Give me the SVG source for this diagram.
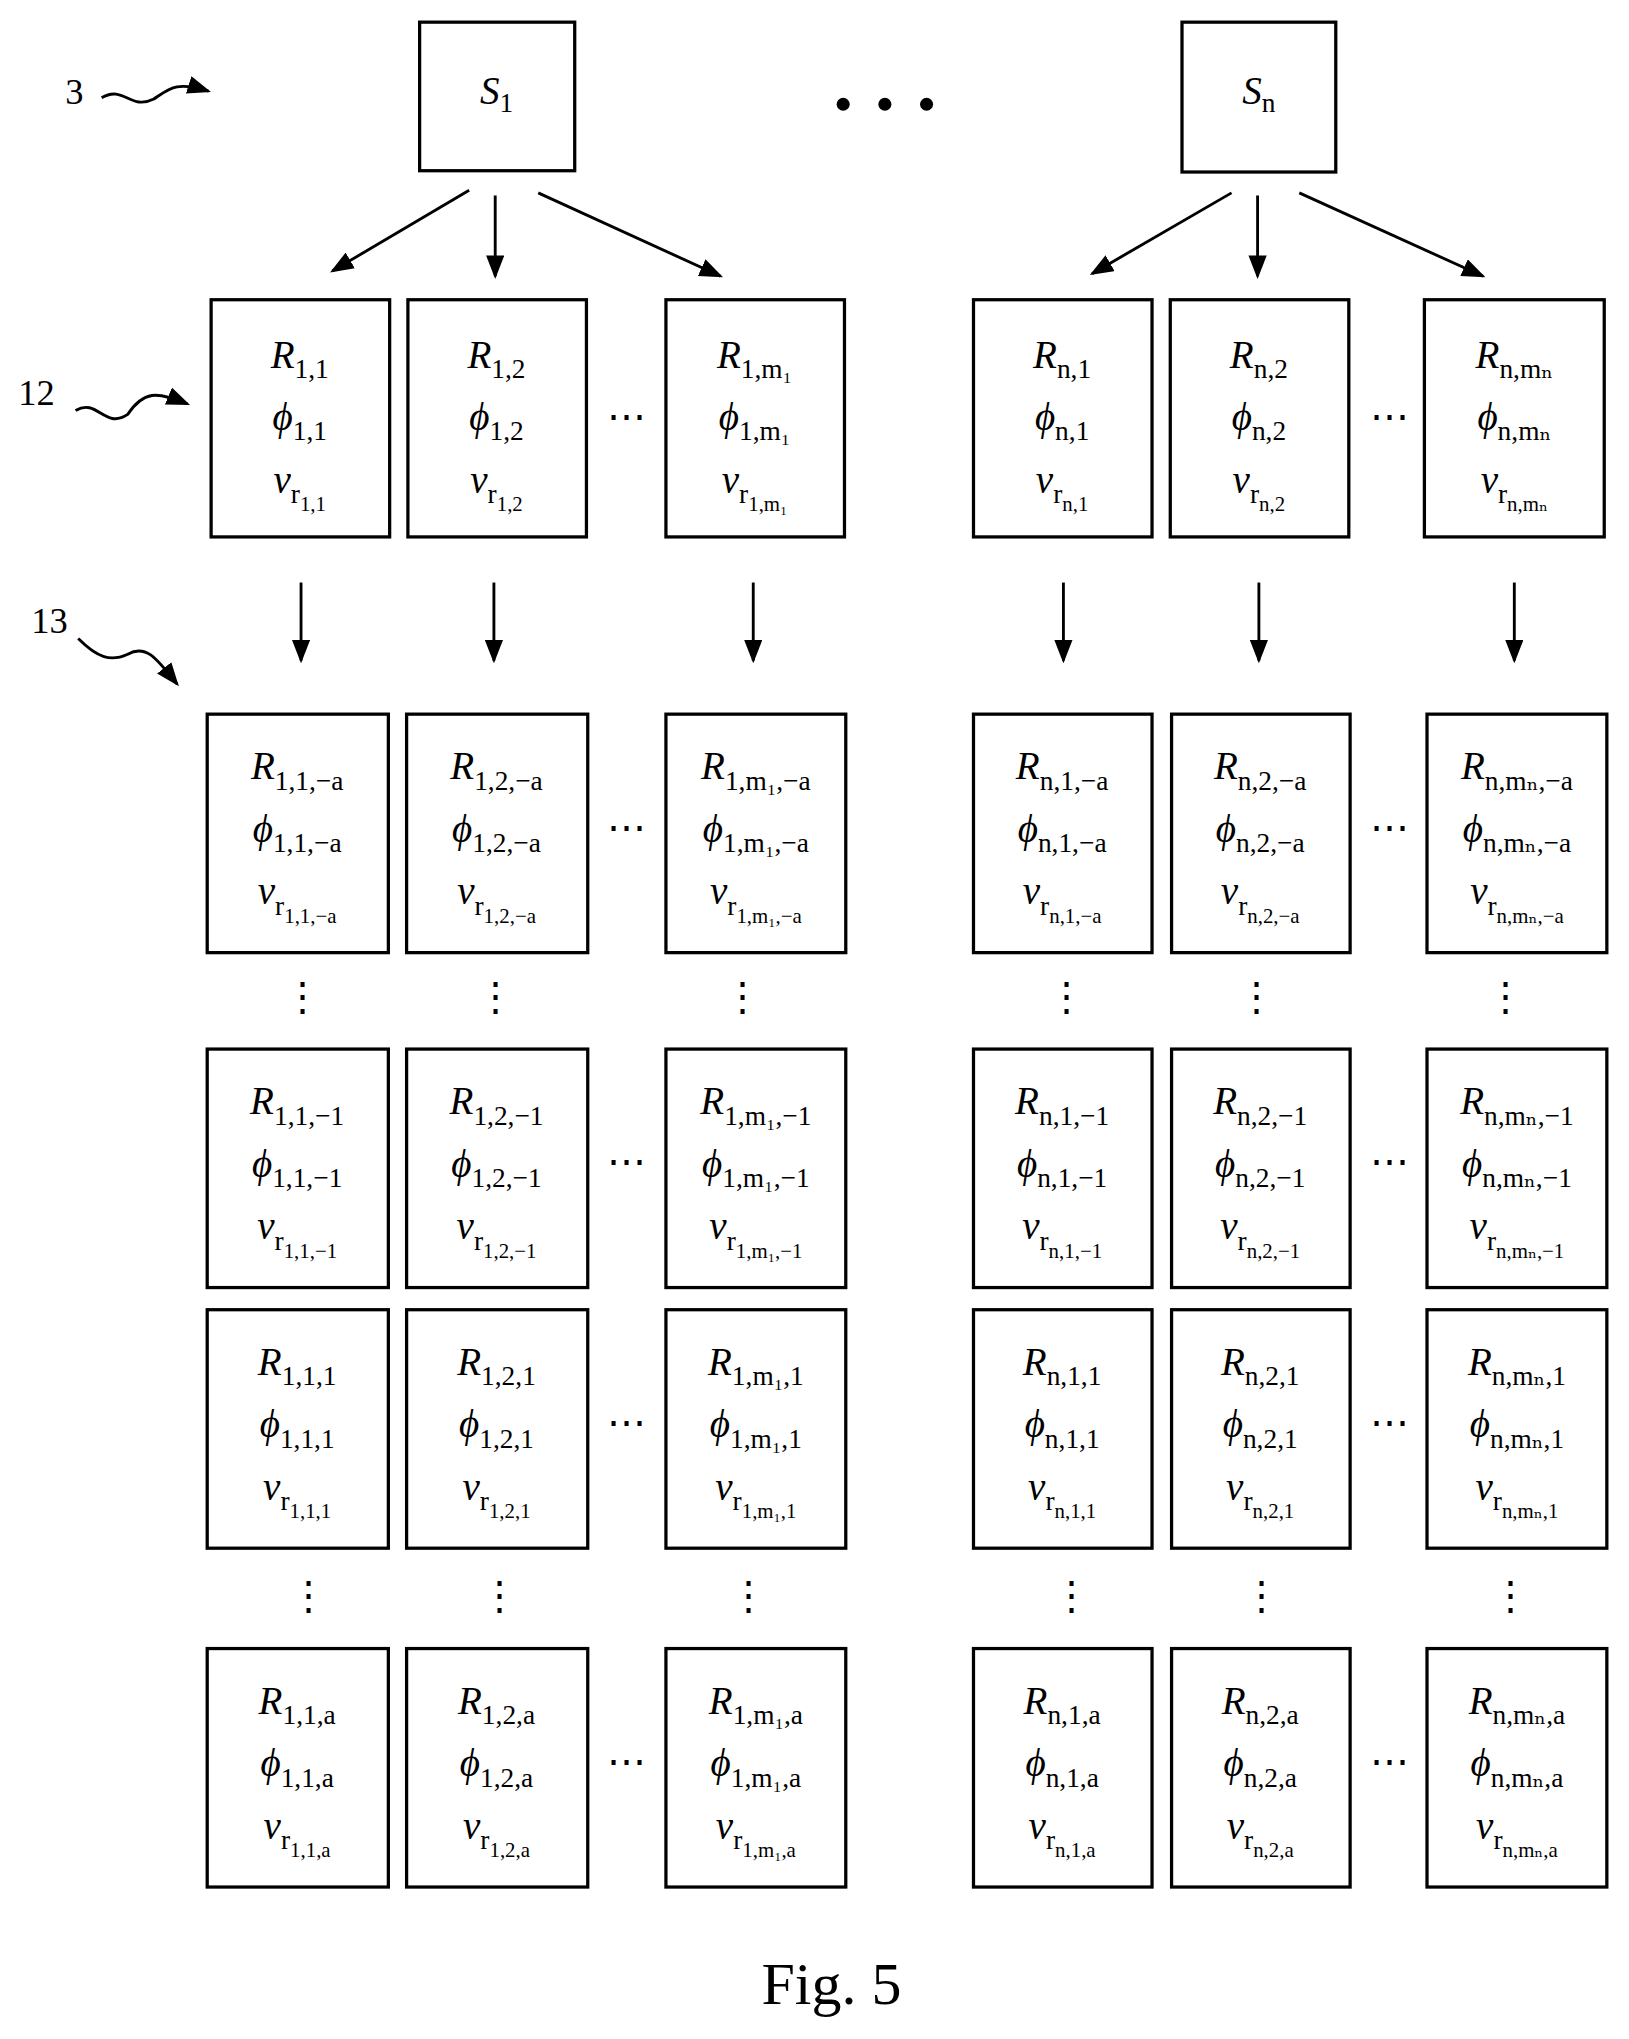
<svg xmlns="http://www.w3.org/2000/svg" width="1629" height="2039" viewBox="0 0 1629 2039">
<style>
.b{fill:#fff;stroke:#000;stroke-width:2.5}
.t{font-family:"Liberation Serif","DejaVu Serif",serif;font-style:italic;font-size:30px;text-anchor:middle;fill:#000}
.s{font-size:21px;font-style:normal}
.q{font-size:16px;font-style:normal}
.l{font-family:"Liberation Serif",serif;font-size:28px;fill:#000}
.c{stroke:#000;stroke-width:2.2;fill:none}
.d{font-family:"Liberation Serif",serif;font-size:30px;fill:#000;text-anchor:middle}
</style>
<defs><marker id="a" markerWidth="10" markerHeight="10" refX="9" refY="5" orient="auto" markerUnits="userSpaceOnUse" viewBox="0 0 10 10"><path d="M0,0L10,5L0,10z"/></marker>
<marker id="m" markerWidth="18" markerHeight="14" refX="16" refY="7" orient="auto" markerUnits="userSpaceOnUse"><path d="M0,0L18,7L0,14z"/></marker></defs>
<rect width="1629" height="2039" fill="#fff"/>
<g transform="scale(1.3032)">
<g id="refs">
<text class="l" x="50" y="80">3</text><path class="c" d="M78,75 C95,65 100,85 118,76 C130,68 135,62 160,70" marker-end="url(#m)"/>
<text class="l" x="14" y="311">12</text><path class="c" d="M58,315 C75,305 80,330 98,318 C110,300 120,300 144,310" marker-end="url(#m)"/>
<text class="l" x="24" y="486">13</text><path class="c" d="M60,490 C75,505 85,508 98,502 C112,494 120,505 136,525" marker-end="url(#m)"/>
</g>
<g id="S1"><rect class="b" x="322" y="17" width="119" height="114"/><text class="t" x="381" y="80">S<tspan class="s" dy="6">1</tspan></text></g>
<g id="Sn"><rect class="b" x="907" y="17" width="118" height="115"/><text class="t" x="966" y="80">S<tspan class="s" dy="6">n</tspan></text></g>
<g id="dots"><circle cx="647" cy="80" r="5"/><circle cx="679" cy="80" r="5"/><circle cx="711" cy="80" r="5"/>
<text class="d" x="481" y="330">⋯</text><text class="d" x="1066" y="330">⋯</text>
<text class="d" x="481" y="645">⋯</text><text class="d" x="1066" y="645">⋯</text>
<text class="d" x="481" y="902">⋯</text><text class="d" x="1066" y="902">⋯</text>
<text class="d" x="481" y="1102">⋯</text><text class="d" x="1066" y="1102">⋯</text>
<text class="d" x="481" y="1362">⋯</text><text class="d" x="1066" y="1362">⋯</text>
<text class="d" x="232" y="775">⋮</text><text class="d" x="380" y="775">⋮</text><text class="d" x="570" y="775">⋮</text><text class="d" x="818" y="775">⋮</text><text class="d" x="964" y="775">⋮</text><text class="d" x="1155" y="775">⋮</text>
<text class="d" x="237" y="1235">⋮</text><text class="d" x="383" y="1235">⋮</text><text class="d" x="574" y="1235">⋮</text><text class="d" x="822" y="1235">⋮</text><text class="d" x="968" y="1235">⋮</text><text class="d" x="1159" y="1235">⋮</text>
</g>
<g id="connectors" class="c">
<path d="M360,146L255,208" marker-end="url(#m)"/><path d="M380,150L380,212" marker-end="url(#m)"/><path d="M413,148L553,212" marker-end="url(#m)"/>
<path d="M945,148L838,210" marker-end="url(#m)"/><path d="M965,150L965,212" marker-end="url(#m)"/><path d="M997,148L1138,212" marker-end="url(#m)"/>
<path d="M231,447V507" marker-end="url(#m)"/><path d="M379,447V507" marker-end="url(#m)"/><path d="M578,447V507" marker-end="url(#m)"/>
<path d="M816,447V507" marker-end="url(#m)"/><path d="M966,447V507" marker-end="url(#m)"/><path d="M1162,447V507" marker-end="url(#m)"/>
</g>
<!-- row 1 -->
<g id="r1c1"><rect class="b" x="162" y="230" width="137" height="182"/><text class="t" x="230" y="282">R<tspan class="s" dy="8">1,1</tspan></text><text class="t" x="230" y="330">ϕ<tspan class="s" dy="8">1,1</tspan></text><text class="t" x="230" y="378">v<tspan class="s" dy="8">r</tspan><tspan class="q" dy="6">1,1</tspan></text></g>
<g id="r1c2"><rect class="b" x="313" y="230" width="137" height="182"/><text class="t" x="381" y="282">R<tspan class="s" dy="8">1,2</tspan></text><text class="t" x="381" y="330">ϕ<tspan class="s" dy="8">1,2</tspan></text><text class="t" x="381" y="378">v<tspan class="s" dy="8">r</tspan><tspan class="q" dy="6">1,2</tspan></text></g>
<g id="r1c3"><rect class="b" x="511" y="230" width="137" height="182"/><text class="t" x="579" y="282">R<tspan class="s" dy="8">1,m₁</tspan></text><text class="t" x="579" y="330">ϕ<tspan class="s" dy="8">1,m₁</tspan></text><text class="t" x="579" y="378">v<tspan class="s" dy="8">r</tspan><tspan class="q" dy="6">1,m₁</tspan></text></g>
<g id="r1c4"><rect class="b" x="747" y="230" width="137" height="182"/><text class="t" x="815" y="282">R<tspan class="s" dy="8">n,1</tspan></text><text class="t" x="815" y="330">ϕ<tspan class="s" dy="8">n,1</tspan></text><text class="t" x="815" y="378">v<tspan class="s" dy="8">r</tspan><tspan class="q" dy="6">n,1</tspan></text></g>
<g id="r1c5"><rect class="b" x="898" y="230" width="137" height="182"/><text class="t" x="966" y="282">R<tspan class="s" dy="8">n,2</tspan></text><text class="t" x="966" y="330">ϕ<tspan class="s" dy="8">n,2</tspan></text><text class="t" x="966" y="378">v<tspan class="s" dy="8">r</tspan><tspan class="q" dy="6">n,2</tspan></text></g>
<g id="r1c6"><rect class="b" x="1093" y="230" width="138" height="182"/><text class="t" x="1162" y="282">R<tspan class="s" dy="8">n,mₙ</tspan></text><text class="t" x="1162" y="330">ϕ<tspan class="s" dy="8">n,mₙ</tspan></text><text class="t" x="1162" y="378">v<tspan class="s" dy="8">r</tspan><tspan class="q" dy="6">n,mₙ</tspan></text></g>
<!-- row 2: -a -->
<g id="r2c1"><rect class="b" x="159" y="548" width="139" height="183"/><text class="t" x="228" y="598">R<tspan class="s" dy="8">1,1,−a</tspan></text><text class="t" x="228" y="646">ϕ<tspan class="s" dy="8">1,1,−a</tspan></text><text class="t" x="228" y="694">v<tspan class="s" dy="8">r</tspan><tspan class="q" dy="6">1,1,−a</tspan></text></g>
<g id="r2c2"><rect class="b" x="312" y="548" width="139" height="183"/><text class="t" x="381" y="598">R<tspan class="s" dy="8">1,2,−a</tspan></text><text class="t" x="381" y="646">ϕ<tspan class="s" dy="8">1,2,−a</tspan></text><text class="t" x="381" y="694">v<tspan class="s" dy="8">r</tspan><tspan class="q" dy="6">1,2,−a</tspan></text></g>
<g id="r2c3"><rect class="b" x="511" y="548" width="138" height="183"/><text class="t" x="580" y="598">R<tspan class="s" dy="8">1,m₁,−a</tspan></text><text class="t" x="580" y="646">ϕ<tspan class="s" dy="8">1,m₁,−a</tspan></text><text class="t" x="580" y="694">v<tspan class="s" dy="8">r</tspan><tspan class="q" dy="6">1,m₁,−a</tspan></text></g>
<g id="r2c4"><rect class="b" x="747" y="548" width="137" height="183"/><text class="t" x="815" y="598">R<tspan class="s" dy="8">n,1,−a</tspan></text><text class="t" x="815" y="646">ϕ<tspan class="s" dy="8">n,1,−a</tspan></text><text class="t" x="815" y="694">v<tspan class="s" dy="8">r</tspan><tspan class="q" dy="6">n,1,−a</tspan></text></g>
<g id="r2c5"><rect class="b" x="899" y="548" width="137" height="183"/><text class="t" x="967" y="598">R<tspan class="s" dy="8">n,2,−a</tspan></text><text class="t" x="967" y="646">ϕ<tspan class="s" dy="8">n,2,−a</tspan></text><text class="t" x="967" y="694">v<tspan class="s" dy="8">r</tspan><tspan class="q" dy="6">n,2,−a</tspan></text></g>
<g id="r2c6"><rect class="b" x="1095" y="548" width="138" height="183"/><text class="t" x="1164" y="598">R<tspan class="s" dy="8">n,mₙ,−a</tspan></text><text class="t" x="1164" y="646">ϕ<tspan class="s" dy="8">n,mₙ,−a</tspan></text><text class="t" x="1164" y="694">v<tspan class="s" dy="8">r</tspan><tspan class="q" dy="6">n,mₙ,−a</tspan></text></g>
<!-- row 3: -1 -->
<g id="r3c1"><rect class="b" x="159" y="805" width="139" height="183"/><text class="t" x="228" y="855">R<tspan class="s" dy="8">1,1,−1</tspan></text><text class="t" x="228" y="903">ϕ<tspan class="s" dy="8">1,1,−1</tspan></text><text class="t" x="228" y="951">v<tspan class="s" dy="8">r</tspan><tspan class="q" dy="6">1,1,−1</tspan></text></g>
<g id="r3c2"><rect class="b" x="312" y="805" width="139" height="183"/><text class="t" x="381" y="855">R<tspan class="s" dy="8">1,2,−1</tspan></text><text class="t" x="381" y="903">ϕ<tspan class="s" dy="8">1,2,−1</tspan></text><text class="t" x="381" y="951">v<tspan class="s" dy="8">r</tspan><tspan class="q" dy="6">1,2,−1</tspan></text></g>
<g id="r3c3"><rect class="b" x="511" y="805" width="138" height="183"/><text class="t" x="580" y="855">R<tspan class="s" dy="8">1,m₁,−1</tspan></text><text class="t" x="580" y="903">ϕ<tspan class="s" dy="8">1,m₁,−1</tspan></text><text class="t" x="580" y="951">v<tspan class="s" dy="8">r</tspan><tspan class="q" dy="6">1,m₁,−1</tspan></text></g>
<g id="r3c4"><rect class="b" x="747" y="805" width="137" height="183"/><text class="t" x="815" y="855">R<tspan class="s" dy="8">n,1,−1</tspan></text><text class="t" x="815" y="903">ϕ<tspan class="s" dy="8">n,1,−1</tspan></text><text class="t" x="815" y="951">v<tspan class="s" dy="8">r</tspan><tspan class="q" dy="6">n,1,−1</tspan></text></g>
<g id="r3c5"><rect class="b" x="899" y="805" width="137" height="183"/><text class="t" x="967" y="855">R<tspan class="s" dy="8">n,2,−1</tspan></text><text class="t" x="967" y="903">ϕ<tspan class="s" dy="8">n,2,−1</tspan></text><text class="t" x="967" y="951">v<tspan class="s" dy="8">r</tspan><tspan class="q" dy="6">n,2,−1</tspan></text></g>
<g id="r3c6"><rect class="b" x="1095" y="805" width="138" height="183"/><text class="t" x="1164" y="855">R<tspan class="s" dy="8">n,mₙ,−1</tspan></text><text class="t" x="1164" y="903">ϕ<tspan class="s" dy="8">n,mₙ,−1</tspan></text><text class="t" x="1164" y="951">v<tspan class="s" dy="8">r</tspan><tspan class="q" dy="6">n,mₙ,−1</tspan></text></g>
<!-- row 4: 1 -->
<g id="r4c1"><rect class="b" x="159" y="1005" width="139" height="183"/><text class="t" x="228" y="1055">R<tspan class="s" dy="8">1,1,1</tspan></text><text class="t" x="228" y="1103">ϕ<tspan class="s" dy="8">1,1,1</tspan></text><text class="t" x="228" y="1151">v<tspan class="s" dy="8">r</tspan><tspan class="q" dy="6">1,1,1</tspan></text></g>
<g id="r4c2"><rect class="b" x="312" y="1005" width="139" height="183"/><text class="t" x="381" y="1055">R<tspan class="s" dy="8">1,2,1</tspan></text><text class="t" x="381" y="1103">ϕ<tspan class="s" dy="8">1,2,1</tspan></text><text class="t" x="381" y="1151">v<tspan class="s" dy="8">r</tspan><tspan class="q" dy="6">1,2,1</tspan></text></g>
<g id="r4c3"><rect class="b" x="511" y="1005" width="138" height="183"/><text class="t" x="580" y="1055">R<tspan class="s" dy="8">1,m₁,1</tspan></text><text class="t" x="580" y="1103">ϕ<tspan class="s" dy="8">1,m₁,1</tspan></text><text class="t" x="580" y="1151">v<tspan class="s" dy="8">r</tspan><tspan class="q" dy="6">1,m₁,1</tspan></text></g>
<g id="r4c4"><rect class="b" x="747" y="1005" width="137" height="183"/><text class="t" x="815" y="1055">R<tspan class="s" dy="8">n,1,1</tspan></text><text class="t" x="815" y="1103">ϕ<tspan class="s" dy="8">n,1,1</tspan></text><text class="t" x="815" y="1151">v<tspan class="s" dy="8">r</tspan><tspan class="q" dy="6">n,1,1</tspan></text></g>
<g id="r4c5"><rect class="b" x="899" y="1005" width="137" height="183"/><text class="t" x="967" y="1055">R<tspan class="s" dy="8">n,2,1</tspan></text><text class="t" x="967" y="1103">ϕ<tspan class="s" dy="8">n,2,1</tspan></text><text class="t" x="967" y="1151">v<tspan class="s" dy="8">r</tspan><tspan class="q" dy="6">n,2,1</tspan></text></g>
<g id="r4c6"><rect class="b" x="1095" y="1005" width="138" height="183"/><text class="t" x="1164" y="1055">R<tspan class="s" dy="8">n,mₙ,1</tspan></text><text class="t" x="1164" y="1103">ϕ<tspan class="s" dy="8">n,mₙ,1</tspan></text><text class="t" x="1164" y="1151">v<tspan class="s" dy="8">r</tspan><tspan class="q" dy="6">n,mₙ,1</tspan></text></g>
<!-- row 5: a -->
<g id="r5c1"><rect class="b" x="159" y="1265" width="139" height="183"/><text class="t" x="228" y="1315">R<tspan class="s" dy="8">1,1,a</tspan></text><text class="t" x="228" y="1363">ϕ<tspan class="s" dy="8">1,1,a</tspan></text><text class="t" x="228" y="1411">v<tspan class="s" dy="8">r</tspan><tspan class="q" dy="6">1,1,a</tspan></text></g>
<g id="r5c2"><rect class="b" x="312" y="1265" width="139" height="183"/><text class="t" x="381" y="1315">R<tspan class="s" dy="8">1,2,a</tspan></text><text class="t" x="381" y="1363">ϕ<tspan class="s" dy="8">1,2,a</tspan></text><text class="t" x="381" y="1411">v<tspan class="s" dy="8">r</tspan><tspan class="q" dy="6">1,2,a</tspan></text></g>
<g id="r5c3"><rect class="b" x="511" y="1265" width="138" height="183"/><text class="t" x="580" y="1315">R<tspan class="s" dy="8">1,m₁,a</tspan></text><text class="t" x="580" y="1363">ϕ<tspan class="s" dy="8">1,m₁,a</tspan></text><text class="t" x="580" y="1411">v<tspan class="s" dy="8">r</tspan><tspan class="q" dy="6">1,m₁,a</tspan></text></g>
<g id="r5c4"><rect class="b" x="747" y="1265" width="137" height="183"/><text class="t" x="815" y="1315">R<tspan class="s" dy="8">n,1,a</tspan></text><text class="t" x="815" y="1363">ϕ<tspan class="s" dy="8">n,1,a</tspan></text><text class="t" x="815" y="1411">v<tspan class="s" dy="8">r</tspan><tspan class="q" dy="6">n,1,a</tspan></text></g>
<g id="r5c5"><rect class="b" x="899" y="1265" width="137" height="183"/><text class="t" x="967" y="1315">R<tspan class="s" dy="8">n,2,a</tspan></text><text class="t" x="967" y="1363">ϕ<tspan class="s" dy="8">n,2,a</tspan></text><text class="t" x="967" y="1411">v<tspan class="s" dy="8">r</tspan><tspan class="q" dy="6">n,2,a</tspan></text></g>
<g id="r5c6"><rect class="b" x="1095" y="1265" width="138" height="183"/><text class="t" x="1164" y="1315">R<tspan class="s" dy="8">n,mₙ,a</tspan></text><text class="t" x="1164" y="1363">ϕ<tspan class="s" dy="8">n,mₙ,a</tspan></text><text class="t" x="1164" y="1411">v<tspan class="s" dy="8">r</tspan><tspan class="q" dy="6">n,mₙ,a</tspan></text></g>
<text class="d" x="638" y="1538" style="font-size:46px">Fig. 5</text>
</g>
</svg>
